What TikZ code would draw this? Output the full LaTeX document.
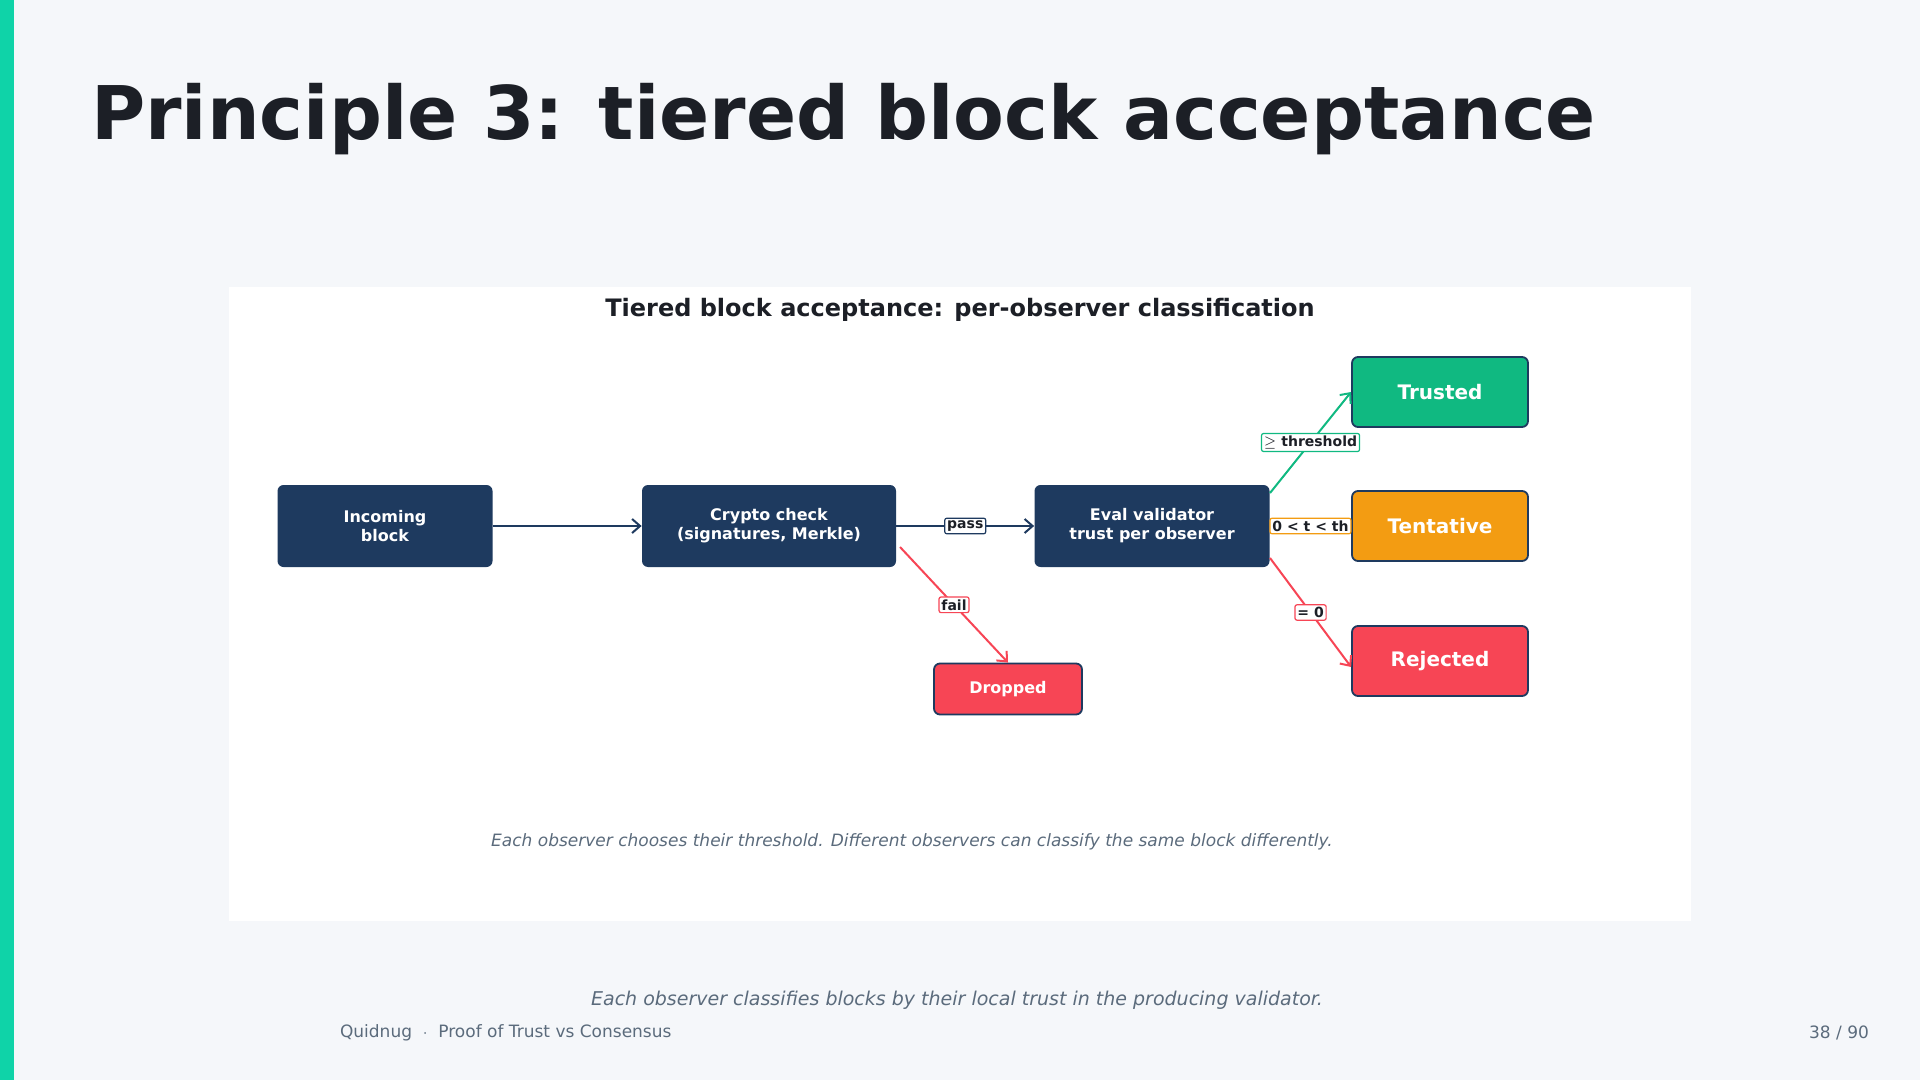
\documentclass[tikz,border=0pt]{standalone}
\usepackage{fontspec}
\setmainfont{DejaVu Sans}
\usetikzlibrary{arrows.meta,positioning}
\definecolor{navy}{HTML}{1E3A5F}
\definecolor{okgreen}{HTML}{10B981}
\definecolor{warnorange}{HTML}{F39C12}
\definecolor{badred}{HTML}{F74555}
\definecolor{slide}{HTML}{F5F7FA}
\definecolor{accent}{HTML}{0FD3A8}
\definecolor{muted}{HTML}{5B6B7C}
\definecolor{ink}{HTML}{1C1F26}
\tikzset{
    stage/.style = {draw=none, fill=navy, rounded corners=3pt, text=white,
        font=\bfseries\fontsize{8}{9.5}\selectfont, align=center},
    outcome/.style = {draw=navy, line width=0.9pt, rounded corners=3pt, text=white,
        font=\bfseries\fontsize{10}{12}\selectfont, minimum width=88pt, minimum height=35pt},
    tag/.style = {draw=#1, fill=white, line width=0.6pt, rounded corners=1pt,
        inner sep=1.2pt, text=ink, font=\bfseries\fontsize{7}{8}\selectfont},
    flow/.style = {draw=#1, line width=1pt, -{Straight Barb[length=4pt,width=7pt]}}
}
\begin{document}
\begin{tikzpicture}[x=0.5pt,y=-0.5pt]
        \fill[slide] (0,0) rectangle (1920,1080);
        \useasboundingbox (0,0) rectangle (1920,1080);
        \fill[accent] (0,0) rectangle (14,1080);
        \node [anchor=west, text=ink, font=\bfseries\fontsize{37}{44}\selectfont] (title) at (84,119) {Principle 3: tiered block acceptance};
        \fill[white] (229,287) rectangle (1691,921);
        \node [text=ink, font=\bfseries\fontsize{12}{14}\selectfont] (ptitle) at (960,310) {Tiered block acceptance: per-observer classification};
        % pipeline
        \node [stage, minimum width=107.5pt, minimum height=41pt] (incoming) at (385,526) {Incoming\\block};
        \node [stage, minimum width=127pt, minimum height=41pt] (crypto) at (769,526) {Crypto check\\(signatures, Merkle)};
        \node [stage, minimum width=117.5pt, minimum height=41pt] (eval) at (1152,526) {Eval validator\\trust per observer};
        \node [outcome, fill=okgreen] (trusted) at (1440,392) {Trusted};
        \node [outcome, fill=warnorange] (tentative) at (1440,526) {Tentative};
        \node [outcome, fill=badred] (rejected) at (1440,661) {Rejected};
        \node [outcome, fill=badred, minimum width=74pt, minimum height=25.5pt,
            font=\bfseries\fontsize{8}{9.5}\selectfont] (dropped) at (1008,689) {Dropped};
        \coordinate (cryptoout) at (900,547);
        \coordinate (evalup) at (1270,493);
        \coordinate (evaldown) at (1270,558);
        \draw [flow=navy] (incoming) -- (crypto);
        \draw [flow=navy] (crypto) -- node [tag=navy] {pass} (eval);
        \draw [flow=badred] (cryptoout) -- node [tag=badred] {fail} (dropped.north);
        \draw [flow=okgreen] (evalup) -- node [tag=okgreen] {$\geq$ threshold} (trusted.west);
        \draw [flow=warnorange] (eval) -- node [tag=warnorange] {0 < t < th} (tentative);
        \draw [flow=badred] (evaldown) -- node [tag=badred] {= 0} ([yshift=-3pt]rejected.west);
        \node [text=muted, font=\itshape\fontsize{8.5}{10}\selectfont] (caption) at (912,842) {Each observer chooses their threshold. Different observers can classify the same block differently.};
        % footer
        \node [text=muted, font=\itshape\fontsize{9.5}{11}\selectfont] (takeaway) at (957,1000) {Each observer classifies blocks by their local trust in the producing validator.};
        \node [anchor=west, text=muted, font=\fontsize{8.5}{10}\selectfont] (deck) at (333,1033) {Quidnug \ $\cdot$ \ Proof of Trust vs Consensus};
        \node [anchor=east, text=muted, font=\fontsize{8.5}{10}\selectfont] (page) at (1876,1033) {38 / 90};
\end{tikzpicture}
\end{document}
